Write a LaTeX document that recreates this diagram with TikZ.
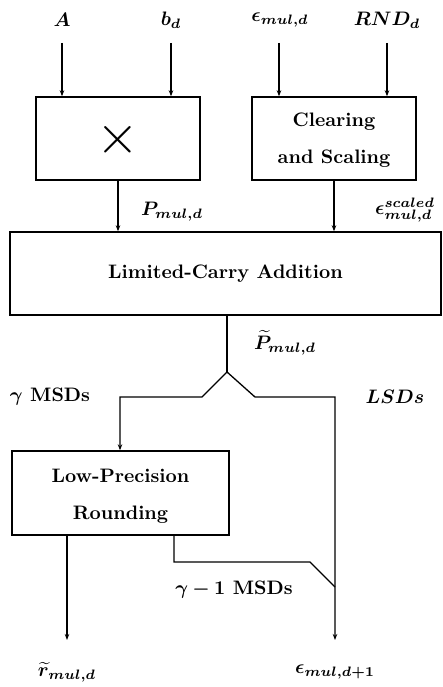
\documentclass[tikz,border=0pt]{standalone}
\usepackage{amsmath}
\usepackage{bm}
\usetikzlibrary{arrows.meta}
\begin{document}
\begin{tikzpicture}[x=1pt,y=-1pt,line width=1.3pt,
  txt/.style={font=\bfseries,inner sep=0pt,scale=1.95,align=center},
  box/.style={draw,line width=1.4pt,inner sep=0pt},
  arr/.style={-{Stealth[length=6pt,width=4.5pt]}}]
\useasboundingbox (0,0) rectangle (442,687);
% boxes
\node[box,minimum width=164pt,minimum height=83pt] (mult) at (118,138.5) {};
\node[inner sep=0pt,scale=5.5] (times) at (118,140) {$\times$};
\node[box,minimum width=164pt,minimum height=83pt] (clr) at (334,138.5) {};
\node[txt] (clrt) at (334,140) {Clearing\\[7pt]and Scaling};
\node[box,minimum width=431pt,minimum height=83pt] (lca) at (225.5,273.5) {};
\node[txt] (lcat) at (lca.center) {Limited-Carry Addition};
\node[box,minimum width=217pt,minimum height=84pt] (lpr) at (120.5,493) {};
\node[txt] (lprt) at (120.5,496) {Low-Precision\\[7pt]Rounding};
% input labels
\node[txt] (A) at (62,20) {$\bm{A}$};
\node[txt] (bd) at (171,20) {$\bm{b_d}$};
\node[txt] (eps) at (280,20) {$\bm{\epsilon_{mul,d}}$};
\node[txt] (rnd) at (387,20) {$\bm{RND_d}$};
\coordinate (a0) at (62,43);
\coordinate (b0) at (171,43);
\coordinate (e0) at (279,43);
\coordinate (r0) at (387,43);
\draw[arr] (a0) -- (a0 |- mult.north);
\draw[arr] (b0) -- (b0 |- mult.north);
\draw[arr] (e0) -- (e0 |- clr.north);
\draw[arr] (r0) -- (r0 |- clr.north);
% middle
\node[txt] (P) at (172,212) {$\bm{P_{mul,d}}$};
\node[txt] (es) at (405,210) {$\bm{\epsilon^{scaled}_{mul,d}}$};
\draw[arr] (mult.south) -- (mult.south |- lca.north);
\draw[arr] (clr.south) -- (clr.south |- lca.north);
\node[txt] (Pt) at (285,343) {$\bm{\widetilde{P}_{mul,d}}$};
\coordinate (top) at (227,315);
\coordinate (apex) at (227,372);
\coordinate (lleg) at (202,397);
\coordinate (rleg) at (255,397);
\coordinate (lcorner) at (120,397);
\coordinate (rcorner) at (335,397);
\coordinate (eout) at (335,640);
\draw (top) -- (apex);
\draw[arr] (apex) -- (lleg) -- (lcorner) -- (lcorner |- lpr.north);
\draw[arr] (apex) -- (rleg) -- (rcorner) -- (eout);
\node[txt] (gm) at (50,397) {$\bm{\gamma}$ MSDs};
\node[txt] (lsd) at (395,397) {$\bm{LSDs}$};
% bottom
\coordinate (o1) at (67,535);
\coordinate (o1e) at (67,640);
\coordinate (o2) at (174,535);
\coordinate (o2a) at (174,562);
\coordinate (o2b) at (310,562);
\coordinate (o2c) at (335,587);
\draw[arr] (o1) -- (o1e);
\draw (o2) -- (o2a) -- (o2b) -- (o2c);
\node[txt] (gm1) at (234,590) {$\bm{\gamma-1}$ MSDs};
\node[txt] (rt) at (67,672) {$\bm{\widetilde{r}_{mul,d}}$};
\node[txt] (e1) at (335,672) {$\bm{\epsilon_{mul,d+1}}$};
\end{tikzpicture}
\end{document}
